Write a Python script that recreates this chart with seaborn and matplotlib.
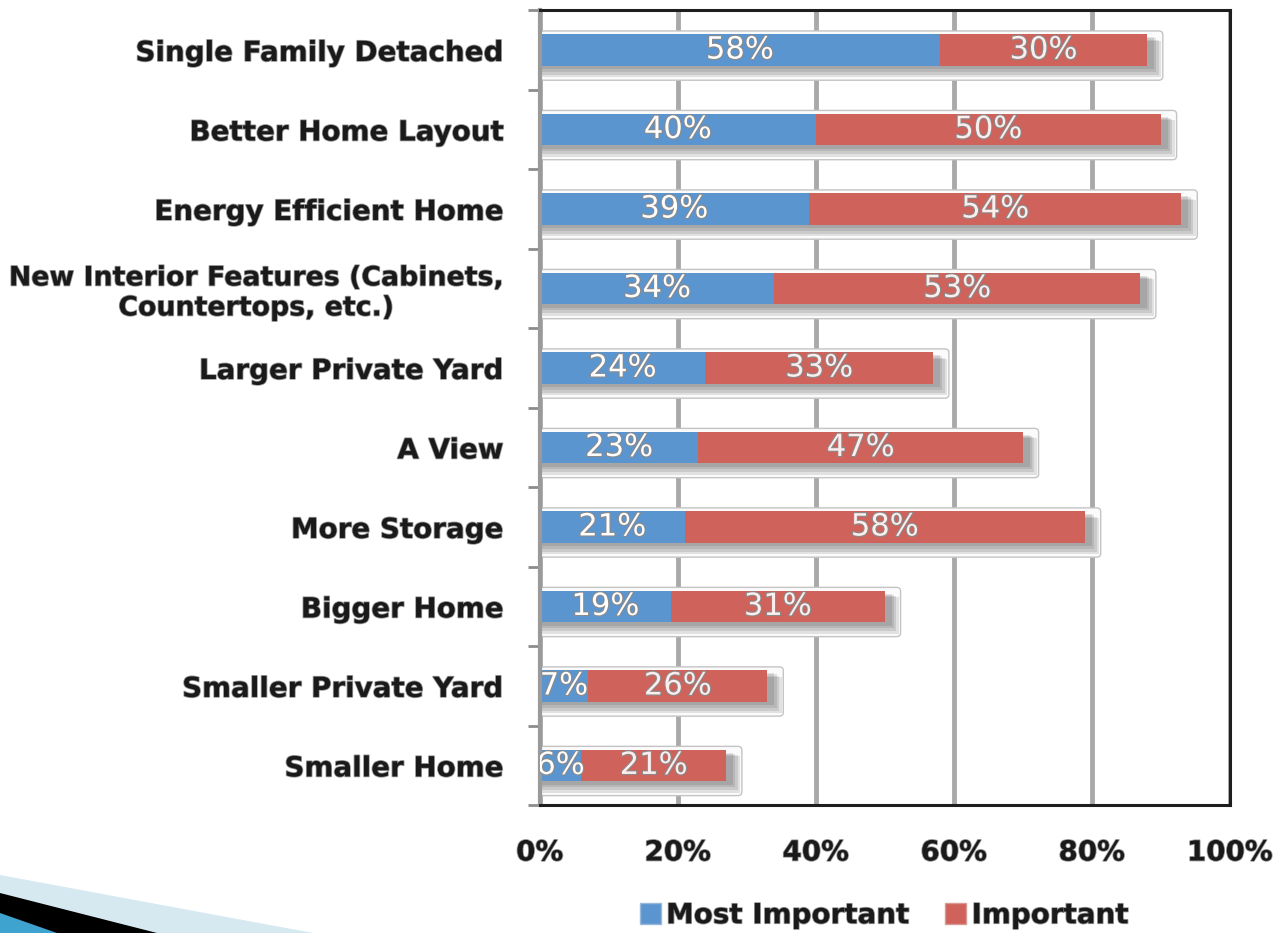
import matplotlib

matplotlib.use("Agg")
import matplotlib.patheffects as pe
import matplotlib.pyplot as plt
import numpy as np
import pandas as pd
import seaborn as sns
from matplotlib.patches import FancyBboxPatch, Patch, Polygon, Rectangle

categories = [
    "Single Family Detached",
    "Better Home Layout",
    "Energy Efficient Home",
    "New Interior Features (Cabinets,\nCountertops, etc.)",
    "Larger Private Yard",
    "A View",
    "More Storage",
    "Bigger Home",
    "Smaller Private Yard",
    "Smaller Home",
]
most_important = [58, 40, 39, 34, 24, 23, 21, 19, 7, 6]
important = [30, 50, 54, 53, 33, 47, 58, 31, 26, 21]
x_ticks = [0, 20, 40, 60, 80, 100]

BLUE = "#5B95D0"
RED = "#CF625B"
FONT = ["DejaVu Sans"]

df = pd.DataFrame({"cat": categories, "most": most_important, "imp": important})
df["total"] = df["most"] + df["imp"]

sns.set_style("white")
plt.rcParams["font.family"] = FONT

fig = plt.figure(figsize=(12.85, 9.33), dpi=100, facecolor="white")
ax = fig.add_axes([0.420, 0.137, 0.537, 0.852])

bar_w = 0.4
# outline boxes + soft shadows behind each bar
for i, tot in enumerate(df["total"]):
    box = FancyBboxPatch((0, i - 0.24), tot + 2.3, 0.62,
                         boxstyle="round,pad=0,rounding_size=0.6",
                         facecolor="#FBFBFB", edgecolor="#C4C4C4", lw=1.0, zorder=0.6,
                         mutation_aspect=0.08)
    ax.add_patch(box)
    for k in range(4):
        ax.add_patch(Rectangle((0.3, i - bar_w / 2 + 0.04 + 0.015 * k), tot + 0.7 + 0.35 * k,
                               bar_w + 0.02 * k, facecolor="#454545", alpha=0.14,
                               lw=0, zorder=0.8))

sns.barplot(data=df, x="total", y="cat", color=RED, width=bar_w, saturation=1,
            orient="h", ax=ax, zorder=2, linewidth=0)
sns.barplot(data=df, x="most", y="cat", color=BLUE, width=bar_w, saturation=1,
            orient="h", ax=ax, zorder=2.1, linewidth=0)

stroke = [pe.withStroke(linewidth=1.6, foreground="#8a8a8a")]
for i, row in df.iterrows():
    ax.text(row["most"] / 2, i, f"{row['most']}%", ha="center", va="center",
            fontsize=22, color="white", zorder=3, path_effects=stroke, clip_on=True)
    ax.text(row["most"] + row["imp"] / 2, i, f"{row['imp']}%", ha="center", va="center",
            fontsize=22, color="#FDEDEC", zorder=3, path_effects=stroke, clip_on=True)

ax.set_xlim(0, 100)
ax.set_ylim(9.5, -0.5)
ax.set_xticks(x_ticks)
ax.set_xticklabels([f"{t}%" for t in x_ticks])
ax.set_xlabel("")
ax.set_ylabel("")
ax.set_axisbelow(True)
ax.grid(axis="x", color="#A9A9A9", lw=3.5, zorder=0.5)
ax.grid(axis="y", visible=False)

ax.set_yticks(np.arange(-0.5, 10, 1), minor=True)
ax.tick_params(axis="y", which="minor", length=9, width=2, color="#8C8C8C", left=True)
ax.tick_params(axis="y", which="major", length=0, pad=26, labelsize=20, labelcolor="#1A1A1A")
ax.tick_params(axis="x", length=0, pad=24, labelsize=20, labelcolor="#1A1A1A")
for lab in ax.get_yticklabels():
    lab.set_fontweight("bold")
    lab.set_multialignment("center")
    lab.set_path_effects([pe.withStroke(linewidth=1.2, foreground="#9a9a9a")])
    if "\n" in lab.get_text():
        lab.set_fontsize(19.3)
for lab in ax.get_xticklabels():
    lab.set_fontweight("bold")
    lab.set_path_effects([pe.withStroke(linewidth=1.2, foreground="#9a9a9a")])

for side in ["top", "right", "bottom"]:
    ax.spines[side].set_visible(True)
    ax.spines[side].set_color("#1E1E1E")
    ax.spines[side].set_linewidth(2.2)
ax.spines["left"].set_color("#9A9A9A")
ax.spines["left"].set_linewidth(3)

handles = [Patch(facecolor=BLUE, edgecolor="#9ab8d8", label="Most Important"),
           Patch(facecolor=RED, edgecolor="#d89a96", label="Important")]
leg = fig.legend(handles=handles, loc="center", bbox_to_anchor=(0.688, 0.019), ncol=2,
                 frameon=False, fontsize=20, handlelength=0.75, handleheight=0.75,
                 handletextpad=0.2, columnspacing=1.3)
for t in leg.get_texts():
    t.set_fontweight("bold")
    t.set_color("#1A1A1A")
    t.set_path_effects([pe.withStroke(linewidth=1.2, foreground="#9a9a9a")])

# slide decoration in the lower-left corner
W, H = 1285, 933
def fpts(pts):
    return [(x / W, 1 - y / H) for x, y in pts]

fig.patches.append(Polygon(fpts([(0, 875), (313, 933), (0, 933)]), closed=True,
                           facecolor="#D6E9F1", edgecolor="none", transform=fig.transFigure))
fig.patches.append(Polygon(fpts([(0, 893), (157, 933), (0, 933)]), closed=True,
                           facecolor="black", edgecolor="none", transform=fig.transFigure))
fig.patches.append(Polygon(fpts([(0, 913), (57, 933), (0, 933)]), closed=True,
                           facecolor="#3EA3CF", edgecolor="none", transform=fig.transFigure))

fig.savefig("out.png", dpi=100, facecolor="white")
